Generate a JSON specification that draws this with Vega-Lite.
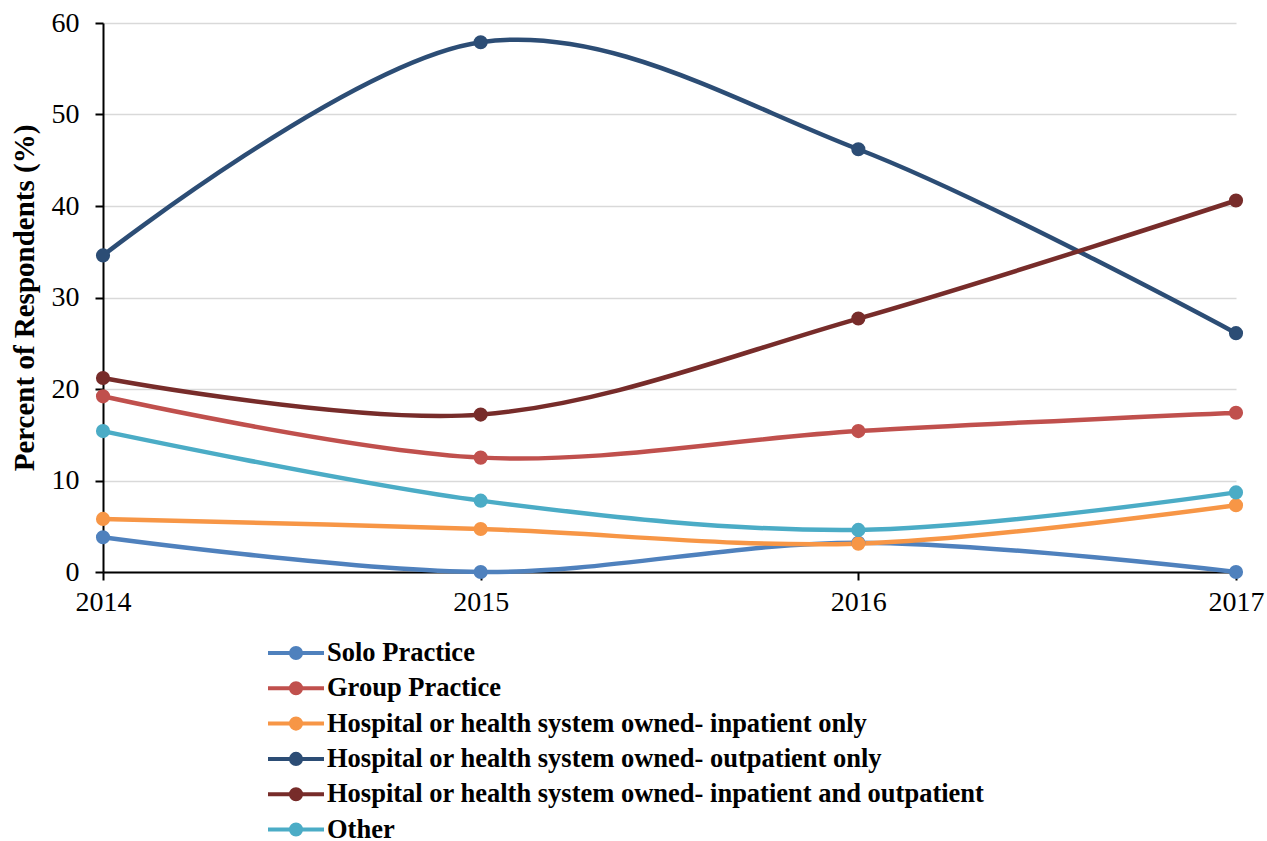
{
  "$schema": "https://vega.github.io/schema/vega-lite/v6.json",
  "width": 1133,
  "height": 549,
  "autosize": {"type": "none"},
  "padding": {"left": 103, "top": 23, "right": 31, "bottom": 269},
  "background": "white",
  "config": {
    "view": {"stroke": null},
    "font": "Liberation Serif",
    "axis": {"labelFont": "Liberation Serif", "titleFont": "Liberation Serif", "labelColor": "black", "titleColor": "black"}
  },
  "data": {
    "values": [
      {"type": "Solo Practice", "year": 2014, "pct": 3.8},
      {"type": "Solo Practice", "year": 2015, "pct": 0},
      {"type": "Solo Practice", "year": 2016, "pct": 3.2},
      {"type": "Solo Practice", "year": 2017, "pct": 0},
      {"type": "Group Practice", "year": 2014, "pct": 19.2},
      {"type": "Group Practice", "year": 2015, "pct": 12.5},
      {"type": "Group Practice", "year": 2016, "pct": 15.4},
      {"type": "Group Practice", "year": 2017, "pct": 17.4},
      {"type": "Hospital or health system owned- inpatient only", "year": 2014, "pct": 5.8},
      {"type": "Hospital or health system owned- inpatient only", "year": 2015, "pct": 4.7},
      {"type": "Hospital or health system owned- inpatient only", "year": 2016, "pct": 3.1},
      {"type": "Hospital or health system owned- inpatient only", "year": 2017, "pct": 7.3},
      {"type": "Hospital or health system owned- outpatient only", "year": 2014, "pct": 34.6},
      {"type": "Hospital or health system owned- outpatient only", "year": 2015, "pct": 57.9},
      {"type": "Hospital or health system owned- outpatient only", "year": 2016, "pct": 46.2},
      {"type": "Hospital or health system owned- outpatient only", "year": 2017, "pct": 26.1},
      {"type": "Hospital or health system owned- inpatient and outpatient", "year": 2014, "pct": 21.2},
      {"type": "Hospital or health system owned- inpatient and outpatient", "year": 2015, "pct": 17.2},
      {"type": "Hospital or health system owned- inpatient and outpatient", "year": 2016, "pct": 27.7},
      {"type": "Hospital or health system owned- inpatient and outpatient", "year": 2017, "pct": 40.6},
      {"type": "Other", "year": 2014, "pct": 15.4},
      {"type": "Other", "year": 2015, "pct": 7.8},
      {"type": "Other", "year": 2016, "pct": 4.6},
      {"type": "Other", "year": 2017, "pct": 8.7}
    ]
  },
  "encoding": {
    "x": {
      "field": "year", "type": "quantitative",
      "scale": {"domain": [2014, 2017], "nice": false, "zero": false},
      "axis": {
        "values": [2014, 2015, 2016, 2017], "format": "d", "title": null, "grid": false,
        "labelFont": "Liberation Serif", "labelFlush": false, "labelOverlap": false,
        "domainColor": "black", "domainWidth": 2, "tickColor": "black", "tickWidth": 2, "tickSize": 8,
        "labelFontSize": 28, "labelPadding": 8
      }
    },
    "y": {
      "field": "pct", "type": "quantitative",
      "scale": {"domain": [0, 60], "nice": false},
      "axis": {
        "values": [0, 10, 20, 30, 40, 50, 60], "title": "Percent of Respondents (%)",
        "labelFont": "Liberation Serif", "titleFont": "Liberation Serif",
        "titleFontSize": 29, "titleFontWeight": "bold", "titlePadding": 12,
        "grid": true, "gridColor": "#d9d9d9", "gridWidth": 1.5,
        "domainColor": "black", "domainWidth": 2, "tickColor": "black", "tickWidth": 2, "tickSize": 8,
        "labelFontSize": 28, "labelPadding": 16
      }
    },
    "color": {
      "field": "type", "type": "nominal",
      "scale": {
        "domain": ["Solo Practice", "Group Practice", "Hospital or health system owned- inpatient only", "Hospital or health system owned- outpatient only", "Hospital or health system owned- inpatient and outpatient", "Other"],
        "range": ["#4F81BD", "#C0504D", "#F79646", "#2C4D75", "#772C2A", "#4BACC6"]
      },
      "legend": {
        "title": null, "orient": "none", "legendX": 177, "legendY": 614, "direction": "vertical",
        "labelFont": "Liberation Serif", "labelFontSize": 26.5, "labelFontWeight": "bold", "labelColor": "black",
        "labelLimit": 1000, "labelOffset": 15, "rowPadding": 5.3,
        "symbolType": "M-2,0L2,0M-0.36,0A0.36,0.36,0,1,0,0.36,0A0.36,0.36,0,1,0,-0.36,0Z",
        "symbolSize": 784, "symbolStrokeWidth": 4, "symbolOpacity": 1,
        "encode": {"symbols": {"update": {"fill": {"scale": "color", "field": "value"}, "stroke": {"scale": "color", "field": "value"}, "strokeWidth": {"value": 4}, "opacity": {"value": 1}}}}
      }
    }
  },
  "layer": [
    {"mark": {"type": "line", "interpolate": "cardinal", "tension": 0, "strokeWidth": 4.5}},
    {"mark": {"type": "point", "filled": true, "size": 200, "opacity": 1}}
  ]
}
